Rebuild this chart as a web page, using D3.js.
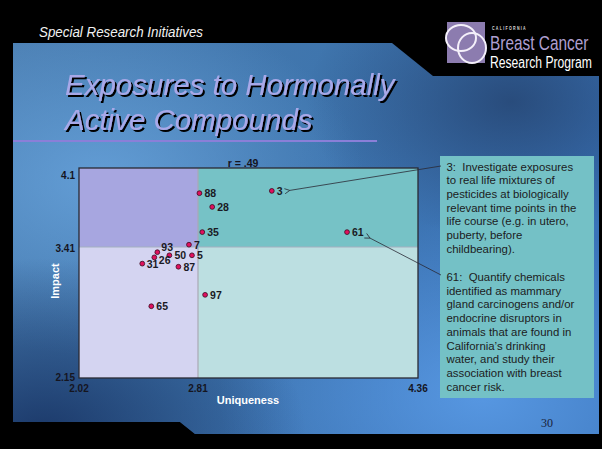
<!DOCTYPE html>
<html>
<head>
<meta charset="utf-8">
<script src="https://cdn.jsdelivr.net/npm/d3@7"></script>
<style>
  html, body { margin: 0; padding: 0; background: #000; }
  svg { display: block; }
  text { font-family: "Liberation Sans", Arial, sans-serif; }
</style>
</head>
<body>
<div id="slide"></div>
<script>
// Data
const ids        = ["88", "28", "35", "7", "93", "26", "50", "5", "31", "87", "3", "61", "97", "65"];
const uniqueness = [2.82, 2.91, 2.84, 2.75, 2.54, 2.52, 2.62, 2.77, 2.44, 2.68, 3.33, 3.86, 2.86, 2.50];
const impact     = [3.88, 3.76, 3.54, 3.43, 3.36, 3.31, 3.33, 3.33, 3.25, 3.22, 3.90, 3.54, 2.95, 2.84];
const xTicks = [2.02, 2.81, 4.36];
const yTicks = [2.15, 3.41, 4.1];
const xMid = 2.81, yMid = 3.41;
const corr = "r = .49";
const notes = [
  ["3:  Investigate exposures", "to real life mixtures of", "pesticides at biologically",
   "relevant time points in the", "life course (e.g. in utero,", "puberty, before", "childbearing)."],
  ["61:  Quantify chemicals", "identified as mammary", "gland carcinogens and/or",
   "endocrine disruptors in", "animals that are found in", "California\u2019s drinking",
   "water, and study their", "association with breast", "cancer risk."]
];
const noteTargets = ["3", "61"];

var W = 602, H = 449;
var svg = d3.select("#slide").append("svg").attr("width", W).attr("height", H);
var defs = svg.append("defs");

// background gradients
var bg = defs.append("linearGradient").attr("id", "bg")
  .attr("x1", 0).attr("y1", 0).attr("x2", 1).attr("y2", 0.3);
bg.append("stop").attr("offset", 0).attr("stop-color", "#4a7db0");
bg.append("stop").attr("offset", 0.5).attr("stop-color", "#3f75ad");
bg.append("stop").attr("offset", 1).attr("stop-color", "#3a73b8");

var glow = defs.append("radialGradient").attr("id", "glow")
  .attr("cx", 0.15).attr("cy", 0.35).attr("r", 0.45);
glow.append("stop").attr("offset", 0).attr("stop-color", "#6aa6df").attr("stop-opacity", 0.8);
glow.append("stop").attr("offset", 1).attr("stop-color", "#6aa6df").attr("stop-opacity", 0);

var glow2 = defs.append("radialGradient").attr("id", "glow2")
  .attr("cx", 0.8).attr("cy", 0.9).attr("r", 0.45);
glow2.append("stop").attr("offset", 0).attr("stop-color", "#5a9be6").attr("stop-opacity", 0.9);
glow2.append("stop").attr("offset", 1).attr("stop-color", "#5a9be6").attr("stop-opacity", 0);

var dark = defs.append("radialGradient").attr("id", "dark")
  .attr("cx", 0.05).attr("cy", 1).attr("r", 0.45);
dark.append("stop").attr("offset", 0).attr("stop-color", "#173262").attr("stop-opacity", 0.9);
dark.append("stop").attr("offset", 1).attr("stop-color", "#173262").attr("stop-opacity", 0);

var dark2 = defs.append("radialGradient").attr("id", "dark2")
  .attr("cx", 0.85).attr("cy", 0.15).attr("r", 0.35);
dark2.append("stop").attr("offset", 0).attr("stop-color", "#24426e").attr("stop-opacity", 0.8);
dark2.append("stop").attr("offset", 1).attr("stop-color", "#24426e").attr("stop-opacity", 0);

// title shadow filter
var sh = defs.append("filter").attr("id", "shadow").attr("x", "-5%").attr("y", "-20%")
  .attr("width", "115%").attr("height", "150%");
sh.append("feOffset").attr("in", "SourceAlpha").attr("dx", 2).attr("dy", 2).attr("result", "off");
var merge = sh.append("feMerge");
merge.append("feMergeNode").attr("in", "off");
merge.append("feMergeNode").attr("in", "SourceGraphic");

var slidePts = [[13, 43], [599, 43], [599, 434], [195, 434], [180, 422], [13, 422]];
["url(#bg)", "url(#glow)", "url(#glow2)", "url(#dark)", "url(#dark2)"].forEach(function (f) {
  svg.append("polygon").attr("points", slidePts.map(p => p.join(",")).join(" ")).attr("fill", f);
});

// logo black block
svg.append("polygon").attr("points", "392,43 433,76 602,76 602,43").attr("fill", "#000");

// header
svg.append("text").attr("x", 39).attr("y", 37)
  .attr("font-size", 15).attr("font-style", "italic").attr("fill", "#f2f2f2")
  .attr("textLength", 164).attr("lengthAdjust", "spacingAndGlyphs")
  .text("Special Research Initiatives");

// logo
var logo = svg.append("g");
logo.append("rect").attr("x", 447).attr("y", 22).attr("width", 38).attr("height", 41).attr("fill", "#8c7caf");
logo.append("ellipse").attr("cx", 461).attr("cy", 38).attr("rx", 15).attr("ry", 13)
  .attr("fill", "none").attr("stroke", "#f4f0fa").attr("stroke-width", 2);
logo.append("ellipse").attr("cx", 472).attr("cy", 48).attr("rx", 14).attr("ry", 15)
  .attr("fill", "none").attr("stroke", "#f4f0fa").attr("stroke-width", 2);
logo.append("text").attr("transform", "translate(492,30) scale(0.8,1)").attr("font-size", 4.5)
  .attr("font-weight", "bold").attr("letter-spacing", 1.6).attr("fill", "#ddd").text("CALIFORNIA");
logo.append("text").attr("transform", "translate(490,49.5) scale(0.79,1)").attr("font-size", 19.5)
  .attr("fill", "#ae9fd0").text("Breast Cancer");
logo.append("text").attr("transform", "translate(490,68) scale(0.76,1)").attr("font-size", 16)
  .attr("fill", "#fff").text("Research Program");

// title with shadow
var titleLines = ["Exposures to Hormonally", "Active Compounds"];
svg.append("g").attr("filter", "url(#shadow)").selectAll("text").data(titleLines).enter().append("text")
  .attr("x", 65).attr("y", (d, i) => 95 + 35 * i)
  .attr("font-size", 29.5).attr("font-style", "italic").attr("fill", "#a8a8e8").text(d => d);
svg.append("line").attr("x1", 13).attr("x2", 377).attr("y1", 141).attr("y2", 141)
  .attr("stroke", "#8a7fd8").attr("stroke-width", 2);

// chart
var x = d3.scaleLinear().domain([xTicks[0], xMid, xTicks[2]]).range([79, 198, 418]);
var y = d3.scaleLinear().domain([yTicks[0], yMid, yTicks[2]]).range([378, 247, 168]);

var quads = [
  { x0: xTicks[0], x1: xMid, y0: yMid, y1: yTicks[2], c: "#a7a6e0" },
  { x0: xMid, x1: xTicks[2], y0: yMid, y1: yTicks[2], c: "#76c2c6" },
  { x0: xTicks[0], x1: xMid, y0: yTicks[0], y1: yMid, c: "#d4d4f1" },
  { x0: xMid, x1: xTicks[2], y0: yTicks[0], y1: yMid, c: "#bcdfe1" }
];
svg.append("g").selectAll("rect").data(quads).enter().append("rect")
  .attr("x", d => x(d.x0)).attr("y", d => y(d.y1))
  .attr("width", d => x(d.x1) - x(d.x0)).attr("height", d => y(d.y0) - y(d.y1))
  .attr("fill", d => d.c);

svg.append("line").attr("x1", x(xMid)).attr("x2", x(xMid)).attr("y1", y(yTicks[2])).attr("y2", y(yTicks[0]))
  .attr("stroke", "#a9a9b4").attr("stroke-width", 1.2);
svg.append("line").attr("x1", x(xTicks[0])).attr("x2", x(xTicks[2])).attr("y1", y(yMid)).attr("y2", y(yMid))
  .attr("stroke", "#a4b0c0").attr("stroke-width", 1.2);

svg.append("rect").attr("x", x(xTicks[0])).attr("y", y(yTicks[2]))
  .attr("width", x(xTicks[2]) - x(xTicks[0])).attr("height", y(yTicks[0]) - y(yTicks[2]))
  .attr("fill", "none").attr("stroke", "#2a2a33").attr("stroke-width", 1.3);

// tick labels
svg.append("g").selectAll("text").data(xTicks).enter().append("text")
  .attr("x", d => x(d)).attr("y", 392).attr("text-anchor", "middle")
  .attr("font-size", 10).attr("font-weight", "bold").attr("fill", "#15151f").text(d => d);
var yLabelY = [381, 252, 179];
svg.append("g").selectAll("text").data(yTicks).enter().append("text")
  .attr("x", 75).attr("y", (d, i) => yLabelY[i]).attr("text-anchor", "end")
  .attr("font-size", 10).attr("font-weight", "bold").attr("fill", "#15151f").text(d => d);

svg.append("text").attr("x", 248).attr("y", 404).attr("text-anchor", "middle")
  .attr("font-size", 11).attr("font-weight", "bold").attr("fill", "#fff").text("Uniqueness");
svg.append("text").attr("transform", "translate(59,281) rotate(-90)").attr("text-anchor", "middle")
  .attr("font-size", 11).attr("font-weight", "bold").attr("fill", "#fff").text("Impact");
svg.append("text").attr("x", 243).attr("y", 167).attr("text-anchor", "middle")
  .attr("font-size", 10.5).attr("font-weight", "bold").attr("fill", "#15151f").text(corr);

// points
var pts = ids.map((id, i) => ({ id: id, u: uniqueness[i], m: impact[i] }));
var labelOffset = { "93": [4, -1], "26": [4.5, 7], "31": [4.5, 4] };
var pg = svg.append("g");
pg.selectAll("circle").data(pts).enter().append("circle")
  .attr("cx", d => x(d.u)).attr("cy", d => y(d.m)).attr("r", 2.4)
  .attr("fill", "#e0105e").attr("stroke", "#3a0a20").attr("stroke-width", 0.8);
pg.selectAll("text").data(pts).enter().append("text")
  .attr("x", d => x(d.u) + (labelOffset[d.id] ? labelOffset[d.id][0] : 5))
  .attr("y", d => y(d.m) + (labelOffset[d.id] ? labelOffset[d.id][1] : 4))
  .attr("font-size", 10.5).attr("font-weight", "bold").attr("fill", "#1a1a24").text(d => d.id);

// callout box
svg.append("rect").attr("x", 440).attr("y", 156).attr("width", 154).attr("height", 242).attr("fill", "#74c1c6");
var lineH = 13.7;
var noteY = [170.5, 281];
notes.forEach(function (lines, k) {
  var t = svg.append("text").attr("font-size", 11.4).attr("fill", "#1c1c22").style("white-space", "pre");
  lines.forEach(function (ln, j) {
    t.append("tspan").attr("x", 446.5).attr("y", noteY[k] + j * lineH).text(ln);
  });
});

// arrows
defs.append("marker").attr("id", "arr").attr("viewBox", "0 0 10 10")
  .attr("refX", 1).attr("refY", 5).attr("markerWidth", 8).attr("markerHeight", 8)
  .attr("orient", "auto-start-reverse")
  .append("path").attr("d", "M9,1 L1,5 L9,9").attr("fill", "none").attr("stroke", "#2a2a35").attr("stroke-width", 1.2);
var starts = [[441, 166], [441, 275]];
noteTargets.forEach(function (id, k) {
  var p = pts.find(d => d.id === id);
  var tx = x(p.u) + (id === "3" ? 18 : 23), ty = y(p.m) + (id === "3" ? -0.5 : 6);
  svg.append("line").attr("x1", tx).attr("y1", ty).attr("x2", starts[k][0]).attr("y2", starts[k][1])
    .attr("stroke", "#2a2a35").attr("stroke-width", 0.8).attr("marker-start", "url(#arr)");
});

// page number
svg.append("text").attr("x", 547).attr("y", 427).attr("text-anchor", "middle")
  .style("font-family", "'Liberation Serif', serif").attr("font-size", 12).attr("fill", "#1a1f3a").text("30");
</script>
</body>
</html>
